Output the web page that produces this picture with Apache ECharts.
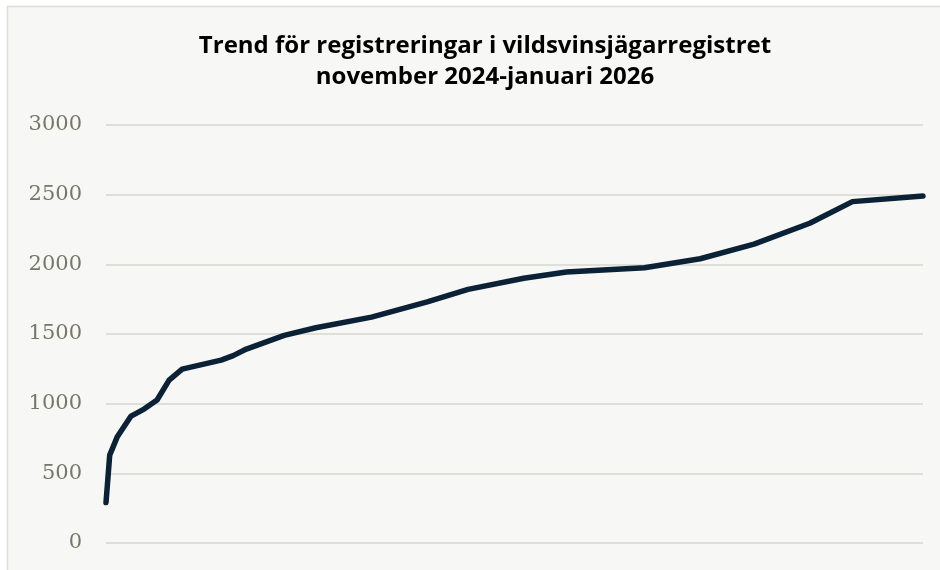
<!DOCTYPE html>
<html>
<head>
<meta charset="utf-8">
<script src="https://cdn.jsdelivr.net/npm/echarts@6/dist/echarts.min.js"></script>
<style>
  html, body { margin: 0; padding: 0; background: #fff; }
  #chart { width: 940px; height: 570px; }
</style>
</head>
<body>
<div id="chart"></div>
<script>
// dagar sedan start (uppskattat) och antal registreringar
const dagar = [0, 2, 6, 13.5, 20.5, 27.5, 34, 41, 62, 68.5, 75.6, 96, 113, 143, 173, 195, 225, 248, 290, 320, 349, 379, 402, 440]
const antal = [290, 631, 760, 911, 961, 1026, 1169, 1248, 1313, 1345, 1392, 1490, 1545, 1621, 1730, 1820, 1900, 1945, 1975, 2040, 2145, 2295, 2450, 2490]
const yTicks = [0, 500, 1000, 1500, 2000, 2500, 3000]

const myChart = echarts.init(document.getElementById('chart'))

const options = {
  backgroundColor: '#ffffff',
  animation: false,
  // ram och bakgrund
  graphic: [
    {
      type: 'rect',
      z: -10,
      shape: { x: 7.5, y: 6.5, width: 960, height: 600 },
      style: { fill: '#f7f7f5', stroke: '#dcdcd8', lineWidth: 1.5 },
    },
  ],
  title: {
    text: 'Trend för registreringar i vildsvinsjägarregistret\nnovember 2024-januari 2026',
    left: 480,
    textAlign: 'center',
    top: 26,
    textStyle: {
      fontFamily: 'Open Sans',
      fontWeight: 'bold',
      fontSize: 24,
      lineHeight: 31,
      color: '#000',
    },
  },
  grid: {
    left: 106,
    right: 17,
    top: 125,
    bottom: 27,
  },
  xAxis: {
    type: 'value',
    min: dagar[0],
    max: dagar[dagar.length - 1],
    show: false,
  },
  yAxis: {
    type: 'value',
    min: yTicks[0],
    max: yTicks[yTicks.length - 1],
    interval: 500,
    axisLine: { show: false },
    axisTick: { show: false },
    axisLabel: {
      margin: 24,
      fontFamily: 'DejaVu Serif',
      fontSize: 21,
      color: '#767768',
      formatter: (v) => String(v),
    },
    splitLine: {
      lineStyle: { color: '#dfdfd9', width: 2 },
    },
  },
  series: [
    {
      type: 'line',
      data: dagar.map((d, i) => [d, antal[i]]),
      showSymbol: false,
      smooth: false,
      lineStyle: { color: '#0b2135', width: 5.5, cap: 'round', join: 'round' },
    },
  ],
}

myChart.setOption(options)
</script>
</body>
</html>
